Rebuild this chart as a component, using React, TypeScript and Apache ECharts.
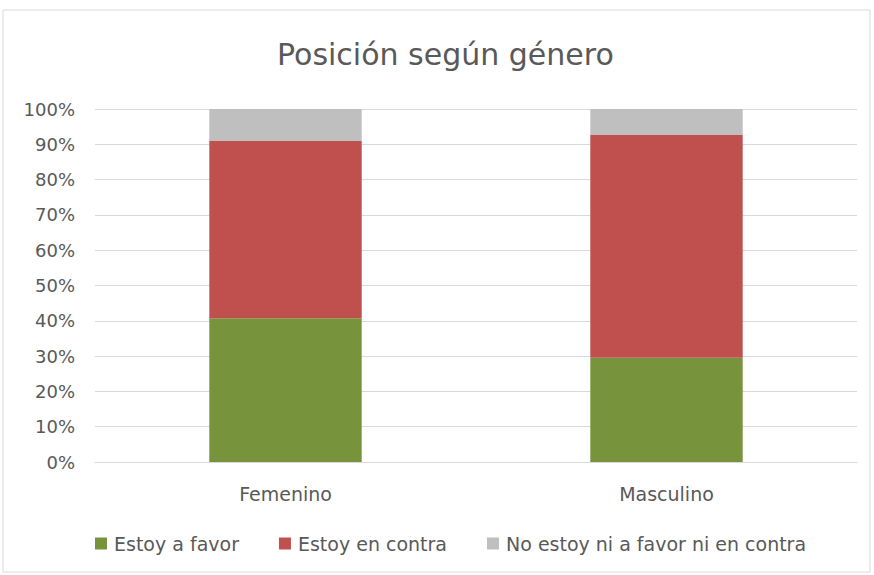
import React, { useEffect, useRef } from "react";
import * as echarts from "echarts";

const categories = ["Femenino", "Masculino"];
const favor = [40.7, 29.5];
const contra = [50.2, 63.1];
const neutral = [9.1, 7.4];
const seriesNames = ["Estoy a favor", "Estoy en contra", "No estoy ni a favor ni en contra"];
const colors = ["#77933C", "#C0504D", "#BFBFBF"];

export default function App() {
  const ref = useRef<HTMLDivElement>(null);
  useEffect(() => {
    document.body.style.margin = "0";
    const chart = echarts.init(ref.current!, null, { renderer: "svg" });
    const font = "'DejaVu Sans', sans-serif";
    const data = [favor, contra, neutral];
    chart.setOption({
      animation: false,
      textStyle: { fontFamily: font },
      title: {
        text: "Posición según género",
        left: 272,
        top: 34,
        textStyle: { fontFamily: font, fontSize: 30, fontWeight: "normal", color: "#595959" },
      },
      graphic: [
        {
          type: "rect",
          shape: { x: 3, y: 10, width: 867, height: 562 },
          style: { fill: "none", stroke: "#D9D9D9", lineWidth: 1 },
          silent: true,
        },
      ],
      grid: { left: 95, right: 17, top: 109, bottom: 113, containLabel: false },
      xAxis: {
        type: "category",
        data: categories,
        axisTick: { show: false },
        axisLine: { lineStyle: { color: "#D9D9D9" } },
        axisLabel: { color: "#595959", fontSize: 19, margin: 22, fontFamily: font },
      },
      yAxis: {
        type: "value",
        min: 0,
        max: 100,
        interval: 10,
        axisLabel: { formatter: "{value}%", color: "#595959", fontSize: 18, margin: 20, fontFamily: font },
        splitLine: { lineStyle: { color: "#D9D9D9" } },
        axisLine: { show: false },
        axisTick: { show: false },
      },
      legend: {
        bottom: 17,
        left: 90,
        itemWidth: 12,
        itemHeight: 12,
        itemGap: 40,
        icon: "rect",
        textStyle: { color: "#595959", fontSize: 19, fontFamily: font, padding: [0, 0, 0, 2] },
        data: seriesNames,
      },
      series: seriesNames.map((name, i) => ({
        name,
        type: "bar",
        stack: "total",
        barWidth: "40%",
        itemStyle: { color: colors[i] },
        data: data[i],
      })),
    });
    return () => chart.dispose();
  }, []);
  return <div ref={ref} style={{ width: 874, height: 575 }} />;
}
